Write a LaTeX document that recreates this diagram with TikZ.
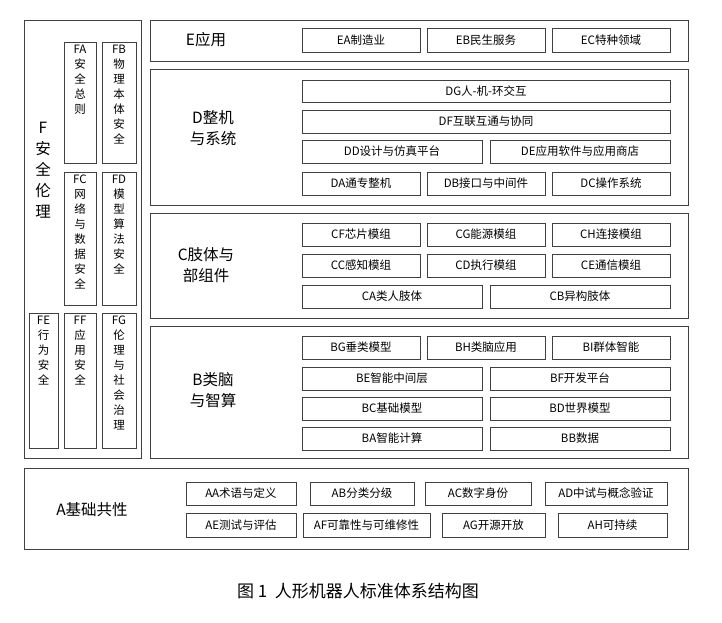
\documentclass[tikz,border=0pt]{standalone}
\usepackage{fontspec}
\setmainfont{Noto Sans CJK SC}
\usepackage{tikz}

% cell: name, x1, x2, y1, y2, text
\newcommand{\cell}[6]{%
  \node [box, minimum width={#3-#2}, minimum height={#5-#4}]
    (#1) at ({(#2+#3)/2},{(#4+#5)/2}) {#6};}
% tall cell with its text at the top
\newcommand{\vcell}[6]{%
  \node [box, minimum width={#3-#2}, minimum height={#5-#4}]
    (#1) at ({(#2+#3)/2},{(#4+#5)/2}) {};
  \node [vtxt, anchor=north] at ([yshift=-3pt]#1.north) {#6};}

\begin{document}
\begin{tikzpicture}[
	  x=1pt, y=-1pt,
	  box/.style={draw=black!75, line width=0.7pt, inner sep=0pt, outer sep=0pt,
	    font=\fontsize{11.5}{14}\selectfont},
	  frame/.style={draw=black!75, line width=0.8pt},
	  vtxt/.style={align=center, inner sep=0pt, font=\fontsize{11.5}{15}\selectfont},
	  big/.style={align=center, font=\fontsize{15.5}{21}\selectfont},
	]
	\useasboundingbox (0,0) rectangle (722,622);

	% outer frames
	\draw [frame] (24,20) rectangle (141,458);
	\draw [frame] (150,20) rectangle (688,61);
	\draw [frame] (150,69) rectangle (688,205);
	\draw [frame] (150,213) rectangle (688,318);
	\draw [frame] (150,326) rectangle (688,458);
	\draw [frame] (24,468) rectangle (688,549);

	% F
	\node [big] (F) at (43,170) {F\\安\\全\\伦\\理};
	\vcell{FA}{64}{96}{42}{163}{FA\\安\\全\\总\\则}
	\vcell{FB}{102}{136}{42}{163}{FB\\物\\理\\本\\体\\安\\全}
	\vcell{FC}{64}{96}{172}{305}{FC\\网\\络\\与\\数\\据\\安\\全}
	\vcell{FD}{102}{136}{172}{305}{FD\\模\\型\\算\\法\\安\\全}
	\vcell{FE}{29}{58}{313}{448}{FE\\行\\为\\安\\全}
	\vcell{FF}{64}{96}{313}{448}{FF\\应\\用\\安\\全}
	\vcell{FG}{102}{136}{313}{448}{FG\\伦\\理\\与\\社\\会\\治\\理}

	% E
	\node [big] (E) at (206,40) {E应用};
	\cell{EA}{302}{420}{28}{52}{EA制造业}
	\cell{EB}{427}{545}{28}{52}{EB民生服务}
	\cell{EC}{552}{670}{28}{52}{EC特种领域}

	% D
	\node [big] (D) at (213,128) {D整机\\与系统};
	\cell{DG}{302}{670}{80}{102}{DG人-机-环交互}
	\cell{DF}{302}{670}{110}{133}{DF互联互通与协同}
	\cell{DD}{302}{482}{140}{163}{DD设计与仿真平台}
	\cell{DE}{490}{670}{140}{163}{DE应用软件与应用商店}
	\cell{DA}{302}{420}{172}{195}{DA通专整机}
	\cell{DB}{427}{545}{172}{195}{DB接口与中间件}
	\cell{DC}{552}{670}{172}{195}{DC操作系统}

	% C
	\node [big] (C) at (206,265) {C肢体与\\部组件};
	\cell{CF}{302}{420}{223}{246}{CF芯片模组}
	\cell{CG}{427}{545}{223}{246}{CG能源模组}
	\cell{CH}{552}{670}{223}{246}{CH连接模组}
	\cell{CC}{302}{420}{254}{277}{CC感知模组}
	\cell{CD}{427}{545}{254}{277}{CD执行模组}
	\cell{CE}{552}{670}{254}{277}{CE通信模组}
	\cell{CA}{302}{482}{285}{308}{CA类人肢体}
	\cell{CB}{490}{670}{285}{308}{CB异构肢体}

	% B
	\node [big] (B) at (213,390) {B类脑\\与智算};
	\cell{BG}{302}{420}{336}{359}{BG垂类模型}
	\cell{BH}{427}{545}{336}{359}{BH类脑应用}
	\cell{BI}{552}{670}{336}{359}{BI群体智能}
	\cell{BE}{302}{482}{367}{390}{BE智能中间层}
	\cell{BF}{490}{670}{367}{390}{BF开发平台}
	\cell{BC}{302}{482}{397}{420}{BC基础模型}
	\cell{BD}{490}{670}{397}{420}{BD世界模型}
	\cell{BA}{302}{482}{427}{450}{BA智能计算}
	\cell{BB}{490}{670}{427}{450}{BB数据}

	% A
	\node [big] (A) at (92,510) {A基础共性};
	\cell{AA}{186}{296}{482}{505}{AA术语与定义}
	\cell{AB}{310}{414}{482}{505}{AB分类分级}
	\cell{AC}{425}{531}{482}{505}{AC数字身份}
	\cell{AD}{545}{667}{482}{505}{AD中试与概念验证}
	\cell{AE}{186}{296}{513}{537}{AE测试与评估}
	\cell{AF}{303}{430}{513}{537}{AF可靠性与可维修性}
	\cell{AG}{442}{545}{513}{537}{AG开源开放}
	\cell{AH}{558}{667}{513}{537}{AH可持续}

	\node [font=\fontsize{17}{20}\selectfont] (cap) at (358,591) {图 1\ \ 人形机器人标准体系结构图};
\end{tikzpicture}
\end{document}
